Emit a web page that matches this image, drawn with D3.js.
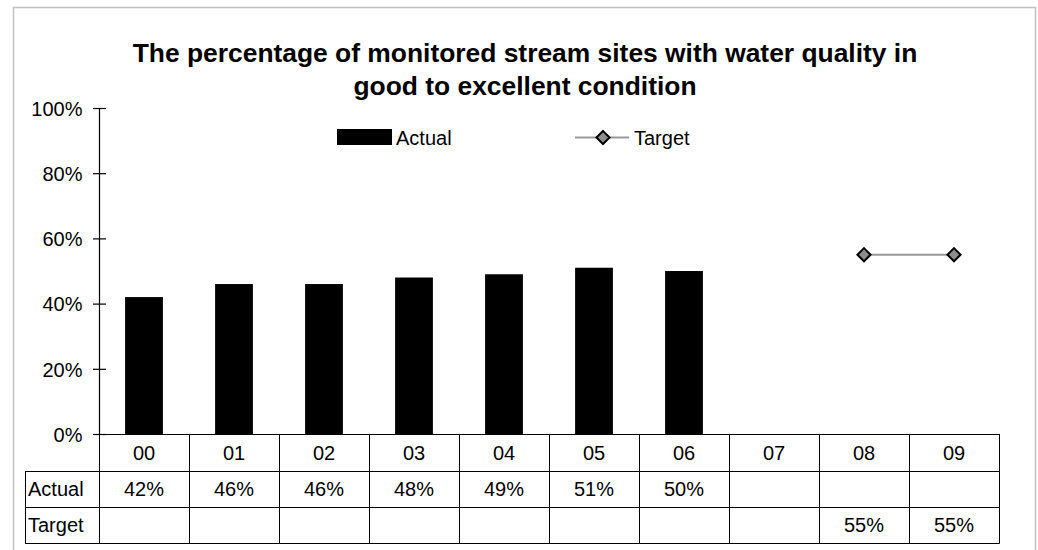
<!DOCTYPE html>
<html>
<head>
<meta charset="utf-8">
<script src="https://cdn.jsdelivr.net/npm/d3@7"></script>
<style>
  body { margin: 0; background: #fff; }
  svg { font-family: "Liberation Sans", Arial, sans-serif; }
</style>
</head>
<body>
<svg width="1038" height="550"></svg>
<script>
// chart values
var years = ['00', '01', '02', '03', '04', '05', '06', '07', '08', '09'];
var actual = [42, 46, 46, 48, 49, 51, 50, null, null, null];
var target = [null, null, null, null, null, null, null, null, 55, 55];
var yTicks = [0, 20, 40, 60, 80, 100];
var titleLines = ['The percentage of monitored stream sites with water quality in',
                  'good to excellent condition'];

var svg = d3.select('svg');

// outer frame
svg.append('rect')
  .attr('x', 13.5).attr('y', 7.5)
  .attr('width', 1022).attr('height', 560)
  .attr('fill', 'none').attr('stroke', '#c0c0c0').attr('stroke-width', 1.5);

// scales: one column per year, 0..100% up the plot
var x = d3.scaleBand().domain(years).range([99, 999]);
var y = d3.scaleLinear().domain([0, 100]).range([434, 108]);
var barW = x.bandwidth() * 0.42;

// title
svg.append('g').selectAll('text')
  .data(titleLines)
  .enter().append('text')
  .attr('x', 525)
  .attr('y', function (d, i) { return 62 + i * 33; })
  .attr('text-anchor', 'middle')
  .attr('font-size', 26.4)
  .attr('font-weight', 'bold')
  .text(function (d) { return d; });

// y axis labels from d3 axis, line + crossing ticks drawn after
var yAxis = d3.axisLeft(y)
  .tickValues(yTicks)
  .tickFormat(function (d) { return d + '%'; })
  .tickSize(0)
  .tickPadding(17);
var ya = svg.append('g')
  .attr('transform', 'translate(99.5,0)')
  .call(yAxis);
ya.select('.domain').remove();
ya.selectAll('.tick line').remove();
ya.selectAll('.tick text')
  .attr('font-size', 20)
  .attr('font-family', '"Liberation Sans", Arial, sans-serif')
  .attr('fill', '#000')
  .attr('dy', '0.36em');

// bars
svg.append('g').selectAll('rect')
  .data(years.filter(function (d, i) { return actual[i] != null; }))
  .enter().append('rect')
  .attr('x', function (d) { return x(d) + (x.bandwidth() - barW) / 2; })
  .attr('y', function (d) { return y(actual[years.indexOf(d)]); })
  .attr('width', barW)
  .attr('height', function (d) { return y(0) - y(actual[years.indexOf(d)]); })
  .attr('fill', '#000');

// target line + diamonds
var tPts = years.map(function (d, i) { return { k: d, v: target[i] }; })
  .filter(function (p) { return p.v != null; });
var line = d3.line()
  .x(function (p) { return x(p.k) + x.bandwidth() / 2; })
  .y(function (p) { return y(p.v); });
svg.append('path')
  .datum(tPts)
  .attr('d', line)
  .attr('fill', 'none').attr('stroke', '#999').attr('stroke-width', 2);

var diamond = d3.symbol().type(d3.symbolDiamond2).size(110);
svg.append('g').selectAll('path')
  .data(tPts)
  .enter().append('path')
  .attr('d', diamond)
  .attr('transform', function (p) {
    return 'translate(' + (x(p.k) + x.bandwidth() / 2) + ',' + y(p.v) + ')';
  })
  .attr('fill', '#8c8c8c').attr('stroke', '#000').attr('stroke-width', 2);

// legend
var leg = svg.append('g').attr('font-size', 20);
leg.append('rect').attr('x', 337).attr('y', 129).attr('width', 55).attr('height', 16).attr('fill', '#000');
leg.append('text').attr('x', 396).attr('y', 145).text('Actual');
leg.append('line').attr('x1', 575).attr('x2', 629).attr('y1', 137.5).attr('y2', 137.5)
  .attr('stroke', '#999').attr('stroke-width', 2);
leg.append('path').attr('d', diamond).attr('transform', 'translate(603,137.5)')
  .attr('fill', '#8c8c8c').attr('stroke', '#000').attr('stroke-width', 2);
leg.append('text').attr('x', 634).attr('y', 145).text('Target');

// data table under the plot
var rows = [
  { name: 'Actual', vals: actual },
  { name: 'Target', vals: target }
];
var rowTop = [434, 471, 507, 543];
var tbl = svg.append('g').attr('stroke', '#000').attr('stroke-width', 1);

// horizontal rules
tbl.append('line').attr('x1', 93).attr('x2', 999.5).attr('y1', rowTop[0] + 0.5).attr('y2', rowTop[0] + 0.5);
[1, 2, 3].forEach(function (r) {
  tbl.append('line').attr('x1', 25).attr('x2', 999.5)
    .attr('y1', rowTop[r] + 0.5).attr('y2', rowTop[r] + 0.5);
});
// vertical rules
years.concat(['end']).forEach(function (d, i) {
  var xx = (d === 'end' ? x.range()[1] : x(d)) + 0.5;
  tbl.append('line').attr('x1', xx).attr('x2', xx).attr('y1', rowTop[0]).attr('y2', rowTop[3] + 0.5);
});
tbl.append('line').attr('x1', 25.5).attr('x2', 25.5).attr('y1', rowTop[1]).attr('y2', rowTop[3] + 0.5);

var txt = svg.append('g').attr('font-size', 20).attr('fill', '#000');
// category labels
txt.selectAll('text.cat')
  .data(years)
  .enter().append('text')
  .attr('class', 'cat')
  .attr('x', function (d) { return x(d) + x.bandwidth() / 2; })
  .attr('y', 460)
  .attr('text-anchor', 'middle')
  .text(function (d) { return d; });

rows.forEach(function (row, r) {
  var base = [496, 532][r];
  txt.append('text').attr('x', 28).attr('y', base).text(row.name);
  txt.selectAll('text.r' + r)
    .data(years.filter(function (d, i) { return row.vals[i] != null; }))
    .enter().append('text')
    .attr('class', 'r' + r)
    .attr('x', function (d) { return x(d) + x.bandwidth() / 2; })
    .attr('y', base)
    .attr('text-anchor', 'middle')
    .text(function (d) { return row.vals[years.indexOf(d)] + '%'; });
});

// value axis line and crossing tick marks, on top
var axisG = svg.append('g').attr('stroke', '#000').attr('stroke-width', 1.2);
axisG.append('line')
  .attr('x1', 99.5).attr('x2', 99.5)
  .attr('y1', y(100)).attr('y2', y(0));
axisG.selectAll('line.tk')
  .data(yTicks)
  .enter().append('line')
  .attr('class', 'tk')
  .attr('x1', 93).attr('x2', 106)
  .attr('y1', function (d) { return y(d) + 0.5; })
  .attr('y2', function (d) { return y(d) + 0.5; });
</script>
</body>
</html>
